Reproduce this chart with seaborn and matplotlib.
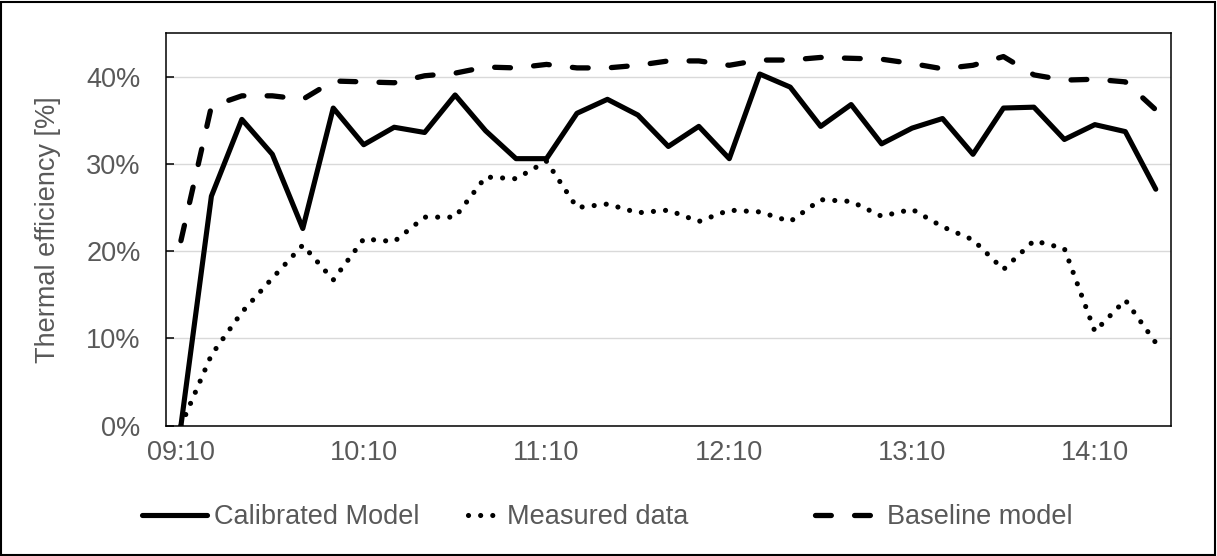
import matplotlib
matplotlib.use("Agg")
import matplotlib.pyplot as plt
from matplotlib.patches import Rectangle
from matplotlib.ticker import FixedLocator, FuncFormatter
import seaborn as sns
import pandas as pd

# Ten-minute time stamps (category axis)
times = ["09:10", "09:20", "09:30", "09:40", "09:50", "10:00", "10:10", "10:20",
         "10:30", "10:40", "10:50", "11:00", "11:10", "11:20", "11:30", "11:40",
         "11:50", "12:00", "12:10", "12:20", "12:30", "12:40", "12:50", "13:00",
         "13:10", "13:20", "13:30", "13:40", "13:50", "14:00", "14:10", "14:20",
         "14:30"]

# Thermal efficiency in percent
calibrated = [0.0, 26.3, 35.1, 31.1, 22.6, 36.4, 32.2, 34.2, 33.6, 37.9, 33.8,
              30.6, 30.6, 35.8, 37.4, 35.6, 32.0, 34.3, 30.6, 40.3, 38.8, 34.3,
              36.8, 32.3, 34.1, 35.2, 31.1, 36.4, 36.5, 32.8, 34.5, 33.7, 27.1]
measured = [0.0, 8.1, 13.0, 16.9, 20.7, 16.7, 21.4, 21.1, 23.9, 23.9, 28.5,
            28.3, 30.3, 25.0, 25.4, 24.4, 24.7, 23.4, 24.7, 24.5, 23.4, 25.9,
            25.7, 24.0, 24.8, 22.8, 21.3, 17.9, 21.2, 20.3, 10.8, 14.4, 9.5]
baseline = [21.2, 36.6, 37.8, 37.8, 37.4, 39.5, 39.4, 39.3, 40.1, 40.4, 41.1,
            41.0, 41.4, 41.0, 41.0, 41.3, 41.8, 41.8, 41.3, 41.9, 41.9, 42.2,
            42.1, 42.0, 41.5, 40.9, 41.3, 42.3, 40.2, 39.6, 39.7, 39.4, 36.2]

series_names = ["Calibrated Model", "Measured data", "Baseline model"]
y_ticks = [0, 10, 20, 30, 40]
x_tick_labels = ["09:10", "10:10", "11:10", "12:10", "13:10", "14:10"]

sns.set_theme(style="white")
plt.rcParams["font.family"] = ["Liberation Sans", "DejaVu Sans"]
TEXT = "#595959"
FS = 19.5

W, H = 1217, 556
fig = plt.figure(figsize=(W / 100, H / 100), dpi=100)
ax = fig.add_axes([165.7 / W, 1 - 425.7 / H, (1171 - 165.7) / W, (425.7 - 33) / H])

idx = list(range(len(times)))
frames = {
    "Calibrated Model": calibrated,
    "Measured data": measured,
    "Baseline model": baseline,
}
styles = {
    "Calibrated Model": dict(dashes=None, lw=3.7),
    "Measured data": dict(dashes=(0.01, 2.35), lw=3.7),
    "Baseline model": dict(dashes=(3.0, 4.4), lw=3.8),
}

handles = []
for name in series_names:
    df = pd.DataFrame({"idx": idx, "value": frames[name]})
    sns.lineplot(data=df, x="idx", y="value", ax=ax, color="black",
                 linewidth=styles[name]["lw"], label=name, legend=False)
    line = ax.lines[-1]
    line.set_solid_joinstyle("round")
    line.set_solid_capstyle("round")
    if styles[name]["dashes"] is not None:
        line.set_dashes(styles[name]["dashes"])
        line.set_dash_capstyle("round")
        line.set_dash_joinstyle("round")
    handles.append(line)

ax.set_xlim(-0.5, len(times) - 0.5)
ax.set_ylim(0, 45)

ax.yaxis.set_major_locator(FixedLocator(y_ticks))
ax.yaxis.set_major_formatter(FuncFormatter(lambda v, p: f"{v:.0f}%"))
ax.set_xticks([times.index(t) for t in x_tick_labels])
ax.set_xticklabels(x_tick_labels)

ax.grid(axis="y", color="#d9d9d9", linewidth=1.0)
ax.grid(axis="x", visible=False)
ax.set_axisbelow(True)

for s in ax.spines.values():
    s.set_visible(True)
    s.set_color("black")
    s.set_linewidth(1.1)

ax.tick_params(axis="y", direction="in", length=6, width=1.1, color="black",
               labelsize=FS, labelcolor=TEXT, pad=18, left=True)
ax.tick_params(axis="x", length=0, labelsize=FS, labelcolor=TEXT, pad=10)

ax.set_xlabel("")
ax.set_ylabel("Thermal efficiency [%]", fontsize=FS, color=TEXT)
ax.yaxis.label.set_verticalalignment("center")
ax.yaxis.set_label_coords((48 - 165.7) / (1171 - 165.7), 0.5)

# Legend entries laid out in one row below the plot
legend_slots = [(142, 2.4), (468, 1.2), (815, 2.4)]
for line, name, (x0, hl) in zip(handles, series_names, legend_slots):
    fig.legend([line], [name], loc="center left", frameon=False,
               bbox_to_anchor=(x0 / W, 1 - 517 / H), fontsize=FS,
               labelcolor=TEXT, handlelength=hl, handletextpad=0.25,
               borderpad=0, borderaxespad=0)

# Chart-area border
fig.patches.append(Rectangle((1 / W, 1 / H), 1 - 3 / W, 1 - 3 / H,
                             transform=fig.transFigure, fill=False,
                             edgecolor="black", linewidth=1.5))

fig.savefig("out.png", dpi=100, facecolor="white")
